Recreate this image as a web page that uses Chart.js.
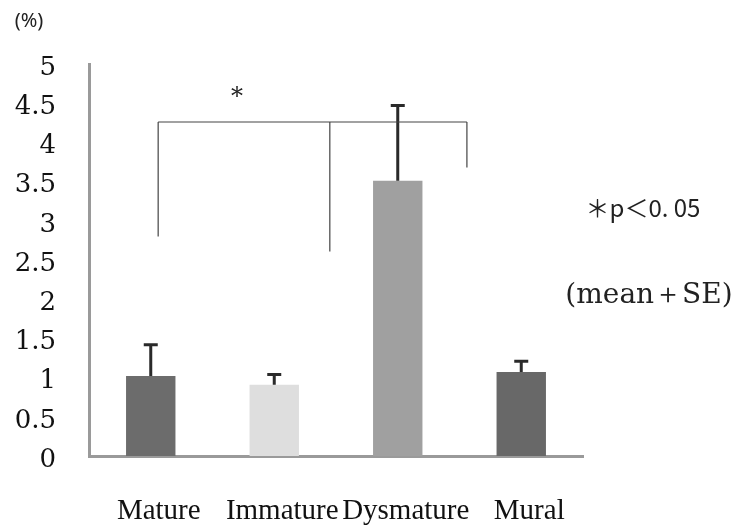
<!DOCTYPE html>
<html>
<head>
<meta charset="utf-8">
<script src="https://cdn.jsdelivr.net/npm/chart.js@4"></script>
<style>
  body { margin: 0; background: #fff; }
  #wrap { width: 739px; height: 529px; position: relative; }
</style>
</head>
<body>
<div id="wrap"><canvas id="chart"></canvas></div>
<script>
const categories = ['Mature', 'Immature', 'Dysmature', 'Mural'];
const means = [1.02, 0.91, 3.51, 1.07];
const stdErrors = [0.40, 0.13, 0.96, 0.14];
const barColors = ['#6c6c6c', '#dedede', '#a0a0a0', '#686868'];
const yTickLabels = ['0', '0.5', '1', '1.5', '2', '2.5', '3', '3.5', '4', '4.5', '5'];

// significance bracket: leg positions (category index), leg bottoms, bar height
const bracketX = [0.06, 1.45, 2.56];
const bracketLegBottom = [2.80, 2.61, 3.68];
const bracketTop = 4.26;

const serif = "'DejaVu Serif', serif";

const errorBars = {
  id: 'errorBars',
  afterDatasetsDraw(chart) {
    const { ctx, scales } = chart;
    const meta = chart.getDatasetMeta(0);
    ctx.save();
    ctx.strokeStyle = '#2a2a2a';
    ctx.lineWidth = 3;
    meta.data.forEach((bar, i) => {
      const top = scales.y.getPixelForValue(means[i] + stdErrors[i]);
      ctx.beginPath();
      ctx.moveTo(bar.x, bar.y);
      ctx.lineTo(bar.x, top);
      ctx.moveTo(bar.x - 7, top);
      ctx.lineTo(bar.x + 7, top);
      ctx.stroke();
    });
    ctx.restore();
  },
};

const annotations = {
  id: 'annotations',
  afterDraw(chart) {
    const { ctx, scales } = chart;
    const x = scales.x;
    const y = scales.y;
    const yTop = y.getPixelForValue(bracketTop);

    ctx.save();
    ctx.strokeStyle = '#444';
    ctx.lineWidth = 1.2;
    ctx.beginPath();
    ctx.moveTo(x.getPixelForValue(bracketX[0]), yTop);
    ctx.lineTo(x.getPixelForValue(bracketX[2]), yTop);
    bracketX.forEach((bx, i) => {
      const px = x.getPixelForValue(bx);
      ctx.moveTo(px, yTop);
      ctx.lineTo(px, y.getPixelForValue(bracketLegBottom[i]));
    });
    ctx.stroke();

    ctx.fillStyle = '#222';
    ctx.textAlign = 'center';
    ctx.textBaseline = 'middle';
    ctx.font = '24px ' + serif;
    ctx.fillText('*', 237, 98);

    ctx.font = "20px 'Noto Sans'";
    ctx.fillText('(%)', 29, 21);

    ctx.font = "24px 'Noto Sans CJK JP'";
    ctx.fillText('＊p＜0. 05', 643, 208);

    ctx.font = '28px ' + serif;
    ctx.fillText('(mean＋SE)', 649, 296);
    ctx.restore();
  },
};

new Chart(document.getElementById('chart'), {
  type: 'bar',
  data: {
    labels: categories,
    datasets: [
      {
        data: means,
        backgroundColor: barColors,
        barPercentage: 0.4,
        categoryPercentage: 1,
      },
    ],
  },
  options: {
    responsive: true,
    maintainAspectRatio: false,
    animation: false,
    layout: { padding: { top: 64, right: 156, bottom: 0, left: 0 } },
    plugins: {
      legend: { display: false },
      tooltip: { enabled: false },
    },
    scales: {
      x: {
        grid: { display: false, drawTicks: false },
        border: { color: '#9a9a9a', width: 3 },
        ticks: {
          color: '#111',
          padding: 38,
          labelOffset: 8,
          maxRotation: 0,
          minRotation: 0,
          autoSkip: false,
          font: { family: "'Liberation Serif', serif", size: 29 },
        },
        afterFit: (scale) => {
          scale.height = 73;
        },
      },
      y: {
        min: 0,
        max: 5,
        grid: { display: false, drawTicks: false },
        border: { color: '#9a9a9a', width: 3 },
        ticks: {
          stepSize: 0.5,
          color: '#111',
          padding: 33,
          labelOffset: 4,
          font: { family: serif, size: 26 },
          callback: (value, index) => yTickLabels[index],
        },
        afterFit: (scale) => {
          scale.width = 89;
        },
      },
    },
  },
  plugins: [errorBars, annotations],
});
</script>
</body>
</html>
